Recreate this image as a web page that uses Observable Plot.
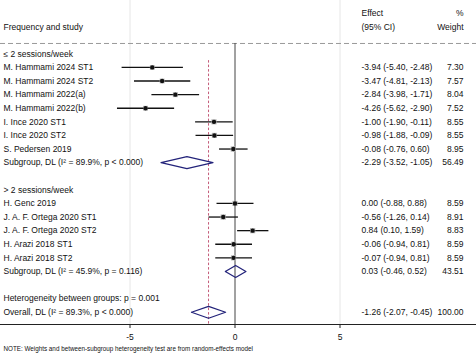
<!DOCTYPE html>
<html><head><meta charset="utf-8">
<script src="https://cdn.jsdelivr.net/npm/d3@7"></script>
<script src="https://cdn.jsdelivr.net/npm/@observablehq/plot@0.6"></script>
<style>body{margin:0;background:#fff} svg{display:block}</style>
</head><body><div id="chart"></div>
<script>
const studyNames = ["M. Hammami 2024 ST1","M. Hammami 2024 ST2","M. Hammami 2022(a)","M. Hammami 2022(b)","I. Ince 2020 ST1","I. Ince 2020 ST2","S. Pedersen 2019",
  "H. Genc 2019","J. A. F. Ortega 2020 ST1","J. A. F. Ortega 2020 ST2","H. Arazi 2018 ST1","H. Arazi 2018 ST2"];
const studyGroup = [0,0,0,0,0,0,0,1,1,1,1,1];
const studyEst = [-3.94,-3.47,-2.84,-4.26,-1.00,-0.98,-0.08, 0.00,-0.56,0.84,-0.06,-0.07];
const studyLo  = [-5.40,-4.81,-3.98,-5.62,-1.90,-1.88,-0.76, -0.88,-1.26,0.10,-0.94,-0.94];
const studyHi  = [-2.48,-2.13,-1.71,-2.90,-0.11,-0.09,0.60, 0.88,0.14,1.59,0.81,0.81];
const studyWeight = [7.30,7.57,8.04,7.52,8.55,8.55,8.95, 8.59,8.91,8.83,8.59,8.59];
const groupHeaders = ["≤ 2 sessions/week", "> 2 sessions/week"];
const summaryLabels = ["Subgroup, DL (I² = 89.9%, p < 0.000)", "Subgroup, DL (I² = 45.9%, p = 0.116)", "Overall, DL (I² = 89.3%, p < 0.000)"];
const summaryEst = [-2.29, 0.03, -1.26];
const summaryLo = [-3.52, -0.46, -2.07];
const summaryHi = [-1.05, 0.52, -0.45];
const summaryWeight = [56.49, 43.51, 100.00];
const hetLabel = "Heterogeneity between groups: p = 0.001";
const headerLeft = "Frequency and study";
const headerEffect = ["Effect", "(95% CI)"];
const headerWeight = ["%", "Weight"];
const noteText = "NOTE: Weights and between-subgroup heterogeneity test are from random-effects model";
const xTicks = [-5, 0, 5];

// Build row layout
const fmt = v => v.toFixed(2);
const ci = (e,l,h) => `${fmt(e)} (${fmt(l)}, ${fmt(h)})`;
const labelRows = [], studyRows = [], summaryRows = [];
let row = 0;
groupHeaders.forEach((h, g) => {
  labelRows.push({row, label: h});
  row++;
  studyNames.forEach((n, i) => {
    if (studyGroup[i] !== g) return;
    studyRows.push({row, name: n, est: studyEst[i], lo: studyLo[i], hi: studyHi[i], w: studyWeight[i]});
    labelRows.push({row, label: n, effect: ci(studyEst[i], studyLo[i], studyHi[i]), weight: fmt(studyWeight[i])});
    row++;
  });
  summaryRows.push({row, est: summaryEst[g], lo: summaryLo[g], hi: summaryHi[g]});
  labelRows.push({row, label: summaryLabels[g], effect: ci(summaryEst[g], summaryLo[g], summaryHi[g]), weight: fmt(summaryWeight[g])});
  row += 2;
});
labelRows.push({row, label: hetLabel});
row++;
summaryRows.push({row, est: summaryEst[2], lo: summaryLo[2], hi: summaryHi[2]});
labelRows.push({row, label: summaryLabels[2], effect: ci(summaryEst[2], summaryLo[2], summaryHi[2]), weight: fmt(summaryWeight[2])});
const lastRow = row;

const dh = 0.44;
const diamonds = summaryRows.flatMap((s, k) => [
  {k, x: s.lo, y: s.row}, {k, x: s.est, y: s.row - dh}, {k, x: s.hi, y: s.row}, {k, x: s.est, y: s.row + dh}, {k, x: s.lo, y: s.row}
]);

const headerTop = [{row: -2.95, e: headerEffect[0], w: headerWeight[0]}, {row: -1.95, e: headerEffect[1], w: headerWeight[1], l: headerLeft}];
const bottomY = lastRow + 0.9;
const font = 8.5;

const chart = Plot.plot({
  width: 476, height: 355,
  marginLeft: 0, marginRight: 0, marginTop: 0, marginBottom: 31,
  style: {fontFamily: "'Liberation Sans', Arial, sans-serif", background: "white", color: "#111"},
  x: {domain: [-234.5/21, (476-234.5)/21]},
  y: {domain: [-3.92, bottomY], range: [0, 324], axis: null},
  r: {domain: [0, 9], range: [0, 3.0]},
  marks: [
    Plot.gridX([-5, 5], {stroke: "#e6e6e6", strokeOpacity: 1}),
    Plot.ruleY([-0.76], {stroke: "#9a9a9a", strokeDasharray: "5,3"}),
    Plot.ruleX([0], {y1: -0.76, y2: bottomY, stroke: "#444", strokeWidth: 1}),
    Plot.ruleX([summaryEst[2]], {y1: 0.5, y2: bottomY, stroke: "#c45a78", strokeDasharray: "2.5,2", strokeWidth: 1}),
    Plot.frame({anchor: "bottom", stroke: "#222"}),
    Plot.axisX(xTicks, {tickSize: 4, tickFormat: d => String(d), fontSize: font, stroke: "#222"}),
    Plot.link(studyRows, {x1: "lo", x2: "hi", y1: "row", y2: "row", stroke: "#111", strokeWidth: 1.3}),
    Plot.dot(studyRows, {x: "est", y: "row", r: "w", symbol: "square", fill: "#b8b8b8"}),
    Plot.dot(studyRows, {x: "est", y: "row", r: 2.2, fill: "#111"}),
    Plot.line(diamonds, {x: "x", y: "y", z: "k", stroke: "#23237a", strokeWidth: 1.3, curve: "linear"}),
    Plot.text(labelRows, {y: "row", text: "label", frameAnchor: "left", dx: 3, textAnchor: "start", fontSize: font, fill: "#111"}),
    Plot.text(labelRows.filter(d => d.effect), {y: "row", text: "effect", frameAnchor: "right", dx: -115, textAnchor: "start", fontSize: font, fill: "#111"}),
    Plot.text(labelRows.filter(d => d.weight), {y: "row", text: "weight", frameAnchor: "right", dx: -13, textAnchor: "end", fontSize: font, fill: "#111"}),
    Plot.text(headerTop.filter(d => d.l), {y: "row", text: "l", frameAnchor: "left", dx: 3, textAnchor: "start", fontSize: font, fill: "#111"}),
    Plot.text(headerTop, {y: "row", text: "e", frameAnchor: "right", dx: -115, textAnchor: "start", fontSize: font, fill: "#111"}),
    Plot.text(headerTop, {y: "row", text: "w", frameAnchor: "right", dx: -13, textAnchor: "end", fontSize: font, fill: "#111"}),
    Plot.text([noteText], {frameAnchor: "bottom-left", dx: 3, dy: 26, textAnchor: "start", fontSize: 6.3, fill: "#111"})
  ]
});
document.getElementById("chart").appendChild(chart);
</script>
</body></html>
